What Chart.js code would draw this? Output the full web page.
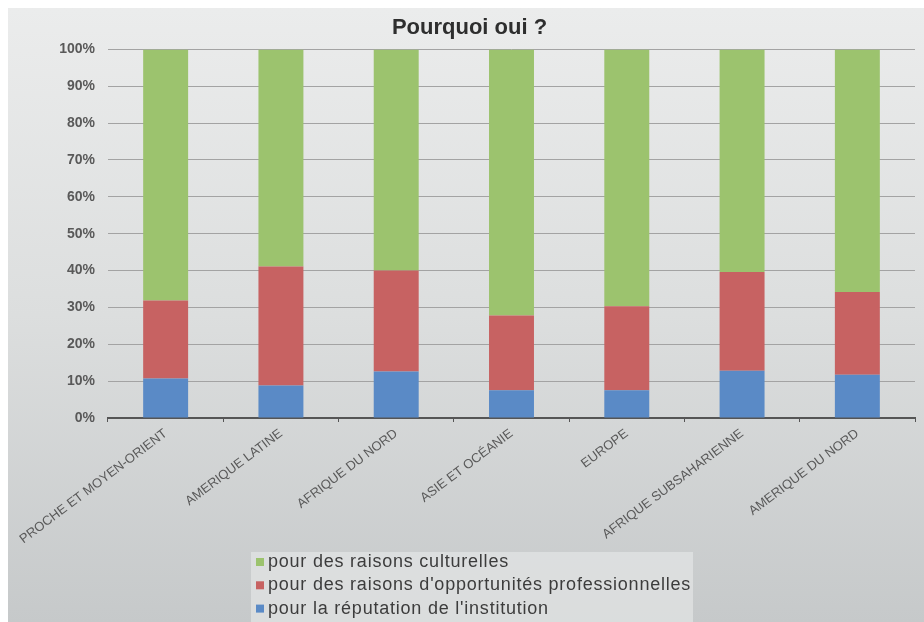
<!DOCTYPE html>
<html>
<head>
<meta charset="utf-8">
<script src="https://cdn.jsdelivr.net/npm/chart.js@4.4.1/dist/chart.umd.min.js"></script>
<style>
html,body{margin:0;padding:0;background:#fff;}
#wrap{width:924px;height:622px;position:relative;}
</style>
</head>
<body>
<div id="wrap"><canvas id="c" width="924" height="622"></canvas></div>
<script>
const categories = ["PROCHE ET MOYEN-ORIENT","AMERIQUE LATINE","AFRIQUE DU NORD","ASIE ET OCÉANIE","EUROPE","AFRIQUE SUBSAHARIENNE","AMERIQUE DU NORD"];
const reputation = [10.7, 8.8, 12.6, 7.5, 7.5, 12.8, 11.7];
const opportunites = [21.2, 32.3, 27.4, 20.3, 22.8, 26.8, 22.5];
const culturelles = [68.1, 58.9, 60.0, 72.2, 69.7, 60.4, 65.8];
const yTicks = [0,10,20,30,40,50,60,70,80,90,100];
const seriesLabels = ["pour la réputation de l'institution","pour des raisons d'opportunités professionnelles","pour des raisons culturelles"];
const seriesColors = ["#5a8ac6","#c76262","#9cc36e"];

const bgPlugin = {
  id:'bg',
  beforeDraw(chart){
    const ctx = chart.ctx;
    ctx.save();
    ctx.fillStyle = '#ffffff';
    ctx.fillRect(0,0,chart.width,chart.height);
    const g = ctx.createLinearGradient(0,8,0,chart.height);
    g.addColorStop(0,'#ebecec');
    g.addColorStop(0.5,'#dcdede');
    g.addColorStop(1,'#c6c9ca');
    ctx.fillStyle = g;
    ctx.fillRect(8,8,chart.width-8,chart.height-8);
    ctx.restore();
  }
};

const legendPlugin = {
  id:'vlegend',
  afterDraw(chart){
    const ctx = chart.ctx;
    ctx.save();
    ctx.fillStyle = 'rgba(235,237,237,0.55)';
    ctx.fillRect(251,552,442,70);
    ctx.font = '18px "Liberation Sans", Arial, sans-serif';
    try { ctx.letterSpacing = '0.78px'; } catch(e) {}
    ctx.textBaseline = 'middle';
    const ds = chart.data.datasets.slice().reverse();
    ds.forEach((d,i)=>{
      const y = 562 + i*23.3;
      ctx.fillStyle = d.backgroundColor;
      ctx.fillRect(256, y-4, 8, 8);
      ctx.fillStyle = '#3c3c3c';
      ctx.fillText(d.label, 268, y);
    });
    ctx.restore();
  }
};

new Chart(document.getElementById('c'), {
  type:'bar',
  data:{
    labels: categories,
    datasets:[
      {label: seriesLabels[0], data: reputation, backgroundColor: seriesColors[0]},
      {label: seriesLabels[1], data: opportunites, backgroundColor: seriesColors[1]},
      {label: seriesLabels[2], data: culturelles, backgroundColor: seriesColors[2]}
    ]
  },
  options:{
    responsive:false,
    animation:false,
    datasets:{bar:{categoryPercentage:1, barPercentage:0.39, borderWidth:0}},
    layout:{padding:{left:24,right:9,top:8,bottom:74}},
    plugins:{
      legend:{display:false},
      tooltip:{enabled:false},
      title:{display:true, text:'Pourquoi oui ?', color:'#2e2e2e',
        font:{family:'"Liberation Sans", Arial, sans-serif', size:22, weight:'bold'},
        padding:{top:7,bottom:8}}
    },
    scales:{
      x:{
        stacked:true,
        afterFit(s){ s.height = 130; },
        border:{display:true,color:'#555555',width:2},
        grid:{drawOnChartArea:false, drawTicks:true, tickLength:4, color:'#555555', offset:true},
        ticks:{color:'#595959', minRotation:37, maxRotation:37, autoSkip:false, padding:4,
          font:{family:'"Liberation Sans", Arial, sans-serif', size:13}}
      },
      y:{
        stacked:true, min:0, max:100,
        afterFit(s){ s.width = 84; },
        afterBuildTicks(s){ s.ticks = yTicks.map(v=>({value:v})); },
        border:{display:false},
        grid:{color:'#a3a3a3', lineWidth:1, drawTicks:false},
        ticks:{color:'#595959', padding:13, callback:v=>v+'%',
          font:{family:'"Liberation Sans", Arial, sans-serif', size:14, weight:'bold'}}
      }
    }
  },
  plugins:[bgPlugin, legendPlugin]
});
</script>
</body>
</html>
